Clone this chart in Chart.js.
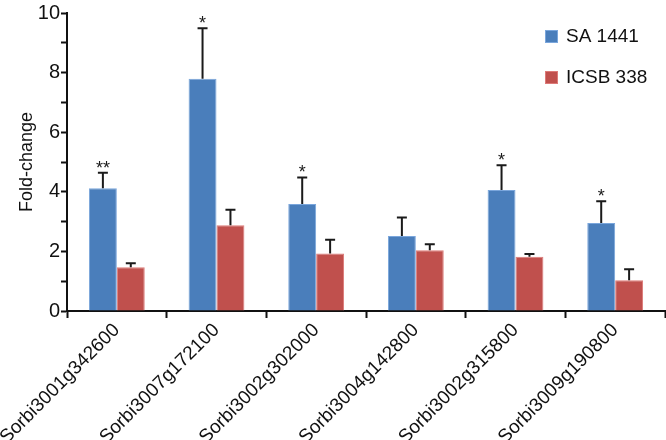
<!DOCTYPE html>
<html>
<head>
<meta charset="utf-8">
<script src="https://cdn.jsdelivr.net/npm/chart.js@4"></script>
<style>
  html, body { margin: 0; padding: 0; background: #fff; }
  #wrap { width: 666px; height: 440px; }
</style>
</head>
<body>
<div id="wrap"><canvas id="foldChart"></canvas></div>
<script>
// DATA
const genes = [
  "Sorbi3001g342600",
  "Sorbi3007g172100",
  "Sorbi3002g302000",
  "Sorbi3004g142800",
  "Sorbi3002g315800",
  "Sorbi3009g190800",
];
const sa1441 = [4.12, 7.79, 3.59, 2.52, 4.06, 2.95];
const sa1441Err = [0.52, 1.7, 0.89, 0.62, 0.83, 0.73];
const icsb338 = [1.47, 2.88, 1.93, 2.04, 1.82, 1.03];
const icsb338Err = [0.13, 0.52, 0.46, 0.2, 0.09, 0.37];
const stars = ["**", "*", "*", "", "*", "*"];
const yTicks = [0, 2, 4, 6, 8, 10];

const FONT = "'Liberation Sans', Arial, sans-serif";

// ERROR BARS + STARS + LEGEND
const extrasPlugin = {
  id: "extras",
  afterDatasetsDraw(chart) {
    const ctx = chart.ctx;
    const y = chart.scales.y;
    const errs = [sa1441Err, icsb338Err];
    ctx.save();
    ctx.strokeStyle = "#1a1a1a";
    ctx.lineWidth = 2;
    chart.data.datasets.forEach((ds, di) => {
      const meta = chart.getDatasetMeta(di);
      meta.data.forEach((bar, i) => {
        const top = y.getPixelForValue(ds.data[i] + errs[di][i]);
        ctx.beginPath();
        ctx.moveTo(bar.x, bar.y);
        ctx.lineTo(bar.x, top);
        ctx.moveTo(bar.x - 5, top);
        ctx.lineTo(bar.x + 5, top);
        ctx.stroke();
        if (di === 0 && stars[i]) {
          ctx.fillStyle = "#1a1a1a";
          ctx.font = "18px " + FONT;
          ctx.textAlign = "center";
          ctx.textBaseline = "bottom";
          ctx.fillText(stars[i], bar.x, top + 5);
        }
      });
    });
    // legend
    ctx.font = "19px " + FONT;
    ctx.textAlign = "left";
    ctx.textBaseline = "middle";
    chart.data.datasets.forEach((ds, di) => {
      const ly = 36 + di * 41;
      ctx.fillStyle = ds.backgroundColor;
      ctx.fillRect(545, ly - 6, 13, 13);
      ctx.strokeStyle = ds.borderColor;
      ctx.lineWidth = 1;
      ctx.strokeRect(545.5, ly - 5.5, 12, 12);
      ctx.fillStyle = "#111";
      ctx.fillText(ds.label, 566, ly + 1);
    });
    ctx.restore();
  },
};

const ctx = document.getElementById("foldChart");
new Chart(ctx, {
  type: "bar",
  data: {
    labels: genes,
    datasets: [
      {
        label: "SA 1441",
        data: sa1441,
        backgroundColor: "#4a7ebb",
        borderColor: "#7aa6dc",
        borderWidth: 1,
      },
      {
        label: "ICSB 338",
        data: icsb338,
        backgroundColor: "#c0504d",
        borderColor: "#dd7a78",
        borderWidth: 1,
      },
    ],
  },
  options: {
    responsive: true,
    maintainAspectRatio: false,
    animation: false,
    events: [],
    layout: { padding: { top: 9, right: 1, left: 0, bottom: 0 } },
    datasets: {
      bar: { barPercentage: 1, categoryPercentage: 0.56 },
    },
    plugins: {
      legend: { display: false },
      tooltip: { enabled: false },
    },
    scales: {
      x: {
        offset: true,
        grid: {
          offset: true,
          drawOnChartArea: false,
          drawTicks: true,
          tickLength: 7,
          tickWidth: 2,
          tickColor: "#111",
        },
        border: { color: "#111", width: 2 },
        ticks: {
          color: "#111",
          font: { family: FONT, size: 19 },
          minRotation: 45,
          maxRotation: 45,
          padding: 1,
        },
        afterFit(scale) {
          scale.height = 129;
          // let the first rotated label run off the left edge, like the original
          scale.paddingLeft = 0;
          scale.paddingRight = 0;
        },
      },
      y: {
        min: 0,
        max: 10,
        afterBuildTicks(scale) {
          scale.ticks = [];
          for (let v = 0; v <= 10; v++) scale.ticks.push({ value: v });
        },
        grid: {
          drawOnChartArea: false,
          drawTicks: true,
          tickLength: 6,
          tickWidth: 2,
          tickColor: "#111",
        },
        border: { color: "#111", width: 2 },
        ticks: {
          color: "#111",
          font: { family: FONT, size: 20 },
          padding: 1,
          callback: (v) => (yTicks.includes(v) ? String(v) : ""),
        },
        title: {
          display: true,
          text: "Fold-change",
          color: "#111",
          font: { family: FONT, size: 18 },
          padding: { top: 16, bottom: 0 },
        },
        afterFit(scale) {
          scale.width = 67;
        },
      },
    },
  },
  plugins: [extrasPlugin],
});
</script>
</body>
</html>
